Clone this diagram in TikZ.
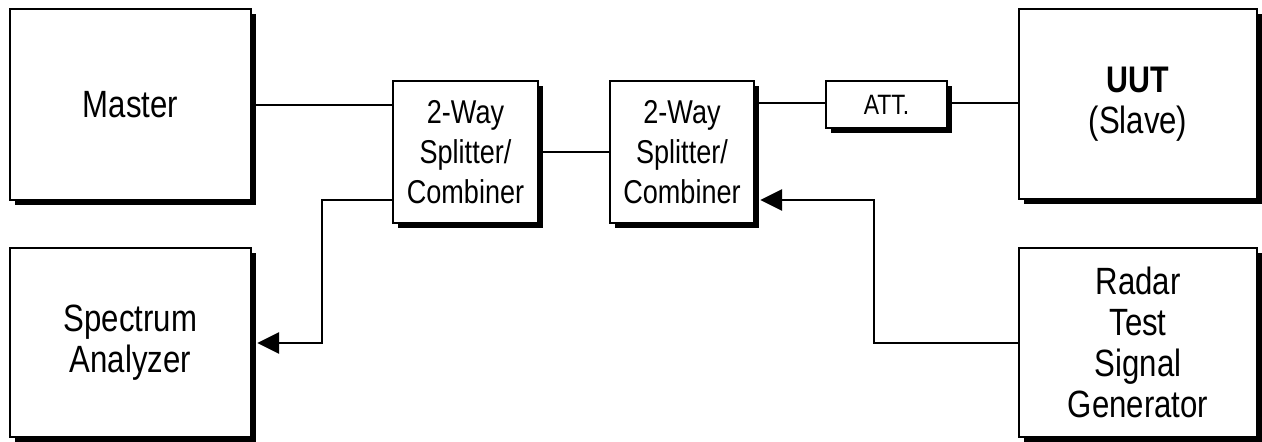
\documentclass[tikz,border=0pt]{standalone}
\usepackage{fontspec}
\setmainfont{Liberation Sans}[FakeStretch=0.82]
\usetikzlibrary{shadows,arrows.meta}
\begin{document}
\begin{tikzpicture}[x=1pt,y=-1pt,
  blk/.style={draw, line width=2.4pt, fill=white, inner sep=0pt, align=center,
    drop shadow={shadow xshift=5pt, shadow yshift=-5pt, fill=black, opacity=1},
    font=\fontsize{38}{41}\selectfont},
  wire/.style={line width=2.8pt},
  arr/.style={wire, -{Triangle[length=22pt,width=21pt]}}]
\useasboundingbox (0,0) rectangle (1262,442);
\node[blk, minimum width=241pt, minimum height=191pt] (master) at (130.5,104.5) {Master};
\node[blk, minimum width=241pt, minimum height=189pt] (spec) at (130.5,342.5) {Spectrum\\Analyzer};
\node[blk, minimum width=145pt, minimum height=142pt, font=\fontsize{33}{40}\selectfont] (s1) at (465.5,152) {2-Way\\Splitter/\\Combiner};
\node[blk, minimum width=144pt, minimum height=142pt, font=\fontsize{33}{40}\selectfont] (s2) at (682,152) {2-Way\\Splitter/\\Combiner};
\node[blk, minimum width=121pt, minimum height=47pt, font=\fontsize{28}{30}\selectfont] (att) at (886.5,104.5) {ATT.};
\node[blk, minimum width=238pt, minimum height=190pt] (uut) at (1138,104) {\fontsize{37}{37}\selectfont\bfseries UUT\\(Slave)};
\node[blk, minimum width=238pt, minimum height=189pt] (radar) at (1138,342.5) {Radar\\Test\\Signal\\Generator};
% connectors
\draw[wire] (master.east |- 0,105) -- (s1.west |- 0,105);
\coordinate (a1) at (322,200);
\coordinate (a2) at (322,343);
\draw[arr] (s1.west |- a1) -- (a1) -- (a2) -- ([xshift=5pt]spec.east |- a2);
\draw[wire] (s1.east |- 0,152) -- (s2.west |- 0,152);
\draw[wire] (s2.east |- 0,103) -- (att.west |- 0,103);
\draw[wire] (att.east |- 0,103) -- (uut.west |- 0,103);
\coordinate (b1) at (874,343);
\coordinate (b2) at (874,200);
\draw[arr] (radar.west |- b1) -- (b1) -- (b2) -- ([xshift=5pt]s2.east |- b2);
\end{tikzpicture}
\end{document}
